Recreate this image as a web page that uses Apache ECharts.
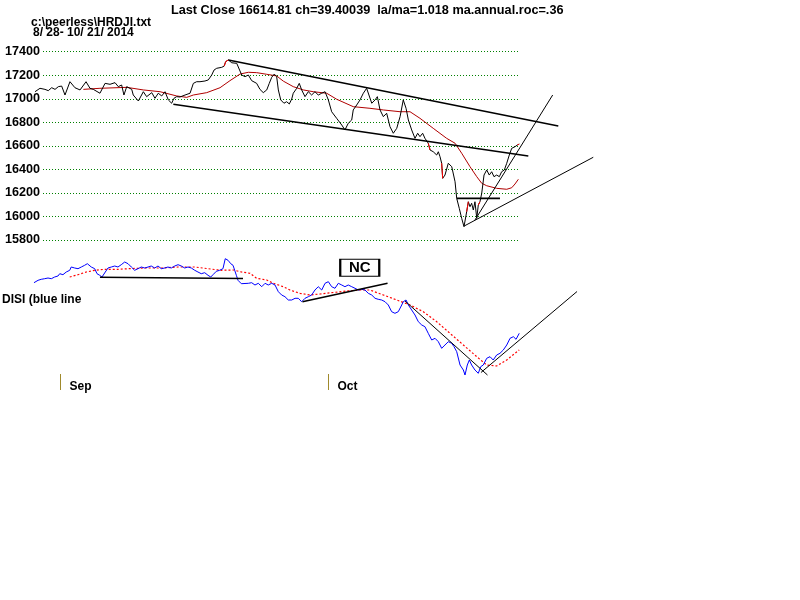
<!DOCTYPE html>
<html><head><meta charset="utf-8">
<script src="https://cdn.jsdelivr.net/npm/echarts@6/dist/echarts.min.js"></script>
<style>html,body{margin:0;padding:0;background:#fff}#c{width:800px;height:600px}</style>
</head><body><div id="c"></div>
<script>
// ---------- DATA (x = trading-day index from 8/28, fractional intraday) ----------
const priceDays = [0.00,0.39,0.78,1.04,1.31,1.57,1.83,2.09,2.35,2.74,
3.13,3.53,4.00,4.31,4.57,5.09,5.49,5.88,6.27,6.53,
6.79,6.97,7.19,7.58,7.70,8.10,8.49,8.75,9.15,9.40,
9.66,9.93,10.19,10.45,10.71,10.89,11.10,11.36,11.76,12.15,
12.41,12.67,12.93,13.32,13.58,13.85,14.03,14.24,14.63,14.83,
14.94,15.15,15.42,15.81,16.20,16.46,16.72,16.98,17.37,17.63,
17.89,18.16,18.36,18.55,18.75,18.94,19.07,19.26,19.51,19.72,
19.93,20.12,20.24,20.51,20.71,20.90,21.16,21.42,21.68,21.94,
22.20,22.47,22.73,22.86,22.99,23.25,23.64,24.04,24.29,24.55,
24.82,24.94,25.21,25.47,25.73,25.99,26.17,26.39,26.65,26.83,
27.04,27.30,27.56,27.82,28.08,28.35,28.61,28.86,29.08,29.26,
29.52,29.78,29.99,30.17,30.38,30.56,30.70,30.82,30.96,31.21,
31.48,31.61,31.74,31.87,31.95,32.13,32.39,32.66,32.92,33.05,
33.25,33.44,33.62,33.83,33.96,34.09,34.22,34.35,34.48,34.62,
34.74,34.87,35.01,35.19,35.40,35.60,35.79,35.97,36.18,36.39,
36.57,36.78,36.97,37.17,37.36,37.62,37.80,37.95];
const priceValues = [17060,17089,17080,17069,17094,17080,17103,17108,17032,17145,
17094,17075,17145,17089,17080,17047,17131,17123,17137,17103,
17117,17032,17103,17080,17032,16981,17060,17018,17052,17004,
17047,17024,17060,16990,16962,17004,17018,17015,17032,17047,
17131,17145,17145,17151,17160,17202,17244,17259,17267,17278,
17315,17330,17306,17301,17202,17188,17202,17154,17131,17080,
17052,17075,17131,17182,17210,17188,17075,16990,16962,16975,
16956,16998,17047,17089,17131,17075,17018,17060,17032,17060,
17032,17047,17060,17060,16990,16890,16834,16777,16735,16792,
16820,16905,16947,16990,17047,17089,17032,16962,16990,17018,
16905,16848,16877,16763,16707,16749,16848,16990,16919,16820,
16735,16664,16707,16678,16707,16664,16678,16622,16565,16550,
16522,16550,16508,16452,16324,16352,16452,16423,16295,16154,
16069,15984,15913,16040,16125,16083,16112,16055,16125,15984,
16097,16125,16197,16352,16395,16352,16380,16338,16352,16338,
16380,16395,16452,16522,16579,16593,16607,16615];
// index ranges of price line drawn in red
const redSegments = [[49,51],[117,118],[123,124],[133,134],[140,141],[156,157]];

const priceMaDays = [3.79,5.09,7.19,8.49,9.80,11.10,11.89,12.41,13.46,14.50,
15.28,16.07,16.72,17.37,18.16,18.94,19.46,20.24,21.03,21.81,
22.86,23.64,24.94,26.25,27.30,28.61,29.39,30.17,31.21,32.26,
32.92,33.44,34.09,34.62,35.01,35.40,36.18,36.97,37.36,37.62,37.88];
const priceMaValues = [17080,17089,17097,17075,17060,17024,17012,17032,17052,17094,
17154,17210,17225,17222,17208,17194,17150,17103,17075,17060,
17047,16996,16933,16919,16905,16890,16890,16834,16749,16664,
16622,16537,16423,16338,16282,16261,16239,16231,16244,16276,16316];

// trend lines [day1, value1, day2, value2]
const priceChannelLines = [[15.15,17330,41.01,16769],[10.84,16953,38.66,16514],[33.05,16154,36.44,16154]];
const priceSupportLines = [[34.48,15970,40.57,17032],[33.64,15919,43.75,16503]];

const disiDays = [-0.08,0.24,0.49,0.76,1.02,1.28,1.54,1.80,1.94,2.19,
2.45,2.72,2.84,3.11,3.37,3.63,3.89,4.10,4.41,4.68,
4.86,5.07,5.25,5.51,5.72,5.98,6.25,6.50,6.76,7.03,
7.29,7.55,7.81,8.07,8.33,8.60,8.86,9.11,9.38,9.64,
9.90,10.16,10.42,10.68,10.95,11.21,11.47,11.73,11.99,12.25,
12.52,12.77,13.03,13.30,13.56,13.77,13.95,14.21,14.47,14.73,
14.91,15.13,15.34,15.52,15.65,15.78,15.91,16.17,16.32,16.72,
16.98,17.24,17.50,17.77,18.03,18.28,18.55,18.81,19.07,19.33,
19.59,19.85,20.12,20.38,20.63,20.90,21.16,21.42,21.68,21.94,
22.20,22.47,22.73,22.99,23.25,23.51,23.77,24.04,24.29,24.55,
24.82,25.08,25.34,25.60,25.86,26.12,26.39,26.65,26.90,27.17,
27.43,27.69,27.95,28.21,28.47,28.74,28.86,29.08,29.26,29.52,
29.78,30.04,30.31,30.56,30.82,31.09,31.35,31.61,31.87,32.13,
32.39,32.66,32.84,33.05,33.31,33.57,33.70,33.88,34.04,34.22,
34.48,34.74,34.93,35.13,35.40,35.66,35.91,36.18,36.44,36.70,
36.97,37.23,37.49,37.70,37.95];
const disiValues = [1073,1097,1107,1113,1120,1113,1130,1140,1163,1153,
1180,1197,1230,1220,1213,1230,1247,1263,1230,1213,
1163,1147,1130,1180,1220,1230,1240,1230,1253,1280,
1263,1230,1197,1213,1230,1220,1230,1240,1220,1240,
1213,1220,1230,1220,1240,1253,1240,1220,1230,1220,
1197,1180,1163,1173,1147,1130,1153,1187,1197,1213,
1313,1297,1263,1247,1197,1147,1097,1063,1083,1067,
1073,1050,1067,1033,1067,1050,1067,1050,983,950,
933,900,900,917,917,883,917,933,950,1000,
1033,1000,1067,1083,1033,1017,1067,1050,1033,1050,
1033,1017,1000,1007,1000,967,950,917,907,900,
883,850,783,767,783,850,883,900,850,800,
750,683,650,633,567,500,517,483,417,450,
483,467,433,383,250,200,150,250,300,250,
200,167,233,250,317,333,300,350,367,400,
450,517,533,507,567];
const disiMaDays = [2.72,3.37,4.02,4.68,5.46,6.50,7.29,8.60,9.90,11.21,
12.52,13.56,14.60,15.54,16.07,16.85,17.37,18.16,18.68,19.46,
19.98,20.77,21.55,22.34,23.38,24.43,25.47,26.25,27.30,28.35,
29.39,30.43,31.48,32.52,33.57,34.62,35.40,36.18,36.97,37.95];
const disiMaValues = [1130,1153,1180,1197,1207,1207,1213,1220,1220,1230,
1230,1213,1197,1200,1183,1167,1117,1100,1067,1033,
1000,967,950,960,975,990,1000,1000,950,900,
850,783,683,567,450,333,250,240,300,400];
const disiThickLines = [[5.09,1127,16.30,1115],[20.96,883,27.63,1067]];
const disiThinLines = [[29.00,890,35.46,150],[34.95,175,42.48,985]];
const ncNote = {day: 25.45, value: 1223, text: 'NC'};

const months = ['Sep','Oct'];
const monthStartDays = [2, 23];
const yTickMin = 15800, yTickMax = 17400, yTickStep = 200;

const titleText = 'Last Close 16614.81 ch=39.40039  la/ma=1.018 ma.annual.roc=.36';
const fileText = 'c:\\peerless\\HRDJI.txt';
const rangeText = '8/ 28- 10/ 21/ 2014';
const disiText = 'DISI (blue line';

// ---------- CHART ----------
const FONT = '"Liberation Sans", Arial, sans-serif';
const pairs = (xs, ys) => xs.map((x, i) => [x, ys[i]]);
const seg = (l) => [[l[0], l[1]], [l[2], l[3]]];
const lineSeries = (data, xi, yi, color, width, type, z) => ({
  type: 'line', xAxisIndex: xi, yAxisIndex: yi, data, showSymbol: false, symbol: 'none',
  clip: false, silent: true, z: z || 2,
  lineStyle: {color, width, type: type || 'solid'}
});

const series = [];
series.push(lineSeries(pairs(priceMaDays, priceMaValues), 1, 1, '#b00000', 1, 'solid', 2));
series.push(lineSeries(pairs(priceDays, priceValues), 1, 1, '#000000', 1, 'solid', 3));
redSegments.forEach(([a, b]) => {
  const d = [];
  for (let i = a; i <= b; i++) d.push([priceDays[i], priceValues[i]]);
  series.push(lineSeries(d, 1, 1, '#ff0000', 1, 'solid', 4));
});
priceChannelLines.forEach(l => series.push(lineSeries(seg(l), 1, 1, '#000000', 1.6, 'solid', 5)));
priceSupportLines.forEach(l => series.push(lineSeries(seg(l), 1, 1, '#000000', 1, 'solid', 5)));

series.push(lineSeries(pairs(disiMaDays, disiMaValues), 2, 2, '#ff0000', 1.2, [2, 2], 2));
const disiSeries = lineSeries(pairs(disiDays, disiValues), 2, 2, '#0000ff', 1, 'solid', 3);
disiSeries.markPoint = {
  silent: true, animation: false,
  data: [{coord: [ncNote.day, ncNote.value], value: ncNote.text}],
  symbol: 'rect', symbolSize: [39, 17],
  itemStyle: {color: '#ffffff', borderColor: '#000000', borderWidth: 1.5},
  label: {show: true, position: 'inside', formatter: ncNote.text, color: '#000',
          fontWeight: 'bold', fontSize: 15, fontFamily: FONT}
};
series.push(disiSeries);
disiThickLines.forEach(l => series.push(lineSeries(seg(l), 2, 2, '#000000', 1.5, 'solid', 5)));
disiThinLines.forEach(l => series.push(lineSeries(seg(l), 2, 2, '#000000', 1, 'solid', 5)));

const option = {
  animation: false,
  backgroundColor: '#ffffff',
  grid: [
    {left: 43, top: 51.7, width: 475, height: 188.3},
    {left: 22.24, top: 51.7, width: 586.96, height: 188.3},
    {left: 22.24, top: 250, width: 586.96, height: 142}
  ],
  xAxis: [
    {gridIndex: 0, type: 'value', min: 0, max: 1, show: false},
    {gridIndex: 1, type: 'value', min: -1, max: 45, show: false},
    {gridIndex: 2, type: 'value', min: -1, max: 45, position: 'bottom',
     axisLine: {show: false}, splitLine: {show: false},
     axisTick: {show: true, inside: true, length: 16, customValues: monthStartDays,
                lineStyle: {color: '#a08a2c', width: 1}},
     axisLabel: {show: true, inside: true, customValues: monthStartDays,
                 formatter: v => months[monthStartDays.indexOf(v)],
                 align: 'left', padding: [0, 0, 0, 9], margin: 5, verticalAlign: 'middle',
                 color: '#000', fontWeight: 'bold', fontSize: 12, fontFamily: FONT}}
  ],
  yAxis: [
    {gridIndex: 0, type: 'value', min: yTickMin, max: yTickMax, interval: yTickStep,
     axisLine: {show: false}, axisTick: {show: false},
     axisLabel: {margin: 3, color: '#000', fontWeight: 'bold', fontSize: 12.6, fontFamily: FONT,
                 formatter: v => String(v)},
     splitLine: {show: true, lineStyle: {color: '#008000', width: 1, type: [1, 2]}}},
    {gridIndex: 1, type: 'value', min: yTickMin, max: yTickMax, show: false},
    {gridIndex: 2, type: 'value', min: -20, max: 1400, show: false}
  ],
  graphic: [
    {type: 'text', left: 171, top: 4, style: {text: titleText, fill: '#000', font: 'bold 12.7px ' + FONT}},
    {type: 'text', left: 31, top: 17, style: {text: fileText, fill: '#000', font: 'bold 12px ' + FONT}},
    {type: 'text', left: 33, top: 27, style: {text: rangeText, fill: '#000', font: 'bold 12px ' + FONT}},
    {type: 'text', left: 2, top: 294, style: {text: disiText, fill: '#000', font: 'bold 12px ' + FONT}}
  ],
  series
};
const chart = echarts.init(document.getElementById('c'), null, {renderer: 'canvas'});
chart.setOption(option);
</script>
</body></html>
